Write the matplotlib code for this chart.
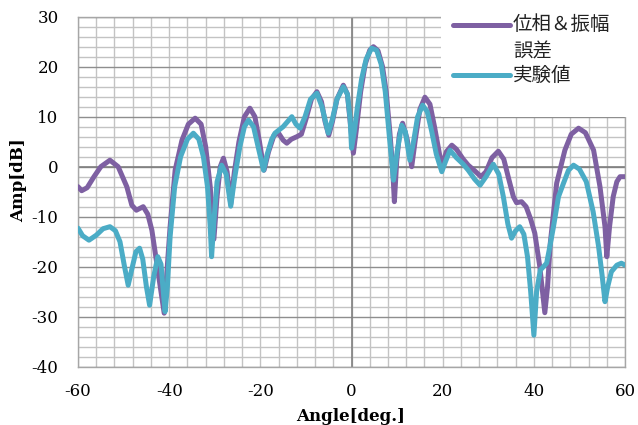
import numpy as np
import matplotlib
matplotlib.use("Agg")
from matplotlib import pyplot as plt
from matplotlib.ticker import MultipleLocator
from matplotlib.lines import Line2D
from matplotlib.patches import Rectangle

plt.rcParams['axes.unicode_minus'] = False

# 位相＆振幅誤差 (simulated, purple)
angle_sim = [-60, -59.2, -58, -56.5, -55, -53, -51.2, -49.3, -48.2, -47.2, -45.7, -44.7, -43.8,
             -42.4, -41.1, -40.5, -39.8, -38.7, -37.2, -35.8, -34.3, -33, -32, -31, -30.2, -29.5,
             -28.8, -28.1, -27.3, -26.5, -25.7, -24.7, -23.5, -22.3, -21.2, -20.2, -19.2, -18.2,
             -17, -16, -15, -14.2, -13.2, -12, -11, -10, -8.8, -7.6, -6.6, -5.8, -5, -4.2, -3.2,
             -1.8, -0.9, -0.3, 0.4, 1, 2, 3, 4, 4.8, 5.8, 6.8, 7.6, 8.4, 9, 9.4, 9.9, 10.5, 11.2,
             12.2, 13.2, 14, 15, 16.1, 17.2, 18.2, 19.2, 19.8, 20.8, 22, 23, 24.5, 25.6, 27, 28.4,
             29.5, 30.8, 32.2, 33.4, 34.5, 35.5, 36.2, 37.3, 38.3, 39.3, 40.2, 41.3, 42.4, 43,
             43.6, 45, 46.8, 48.2, 49.8, 51.3, 53.1, 54.5, 55.6, 56, 56.6, 57.4, 58.2, 58.9, 60]
amp_sim = [-4, -4.8, -4.2, -2, 0, 1.3, 0, -4, -7.7, -8.7, -8, -9.5, -12.7,
           -21.3, -29.3, -21, -12, -0.7, 5.3, 8.5, 9.7, 8.5, 4, -4, -14.5, -6,
           0, 1.7, -1, -7.5, -1, 5, 10, 11.7, 10, 5, -0.7, 3,
           6.3, 6.7, 5.3, 4.7, 5.5, 6, 6.5, 9.5, 13.5, 15, 13, 9, 6.3, 9, 13.5,
           16.3, 14.5, 9, 2.7, 7, 15, 20.5, 23.3, 24, 23.2, 20, 15, 7, 0, -7, 1, 6.5, 8.7,
           5.5, 0, 5.5, 11.5, 13.9, 12.5, 8, 3, 0, 3, 4.3, 3.5, 1.5, 0.3, -0.8, -2,
           -1, 1.8, 3.1, 1.5, -2.5, -6, -7.2, -7, -8, -10.5, -13.3, -20, -29.2, -24,
           -15.3, -3.3, 3.3, 6.5, 7.7, 6.8, 3.3, -4, -12, -18, -12, -6, -3, -2, -2]

# 実験値 (measured, cyan)
angle_meas = [-60, -59, -57.6, -56, -54.5, -53, -51.8, -50.8, -49.8, -49, -48.2, -47.3, -46.5,
              -45.8, -45, -44.3, -43.4, -42.5, -41.8, -41.2, -40.9, -40.4, -39.8, -38.8, -37.5,
              -36, -34.7, -33.5, -32.5, -31.6, -31, -30.7, -30.2, -29.5, -28.5, -27.5, -26.5,
              -25.6, -24.5, -23.5, -22.6, -21.5, -20.5, -19.3, -18.5, -17.5, -16.8, -15, -13.1,
              -12.2, -11.3, -10.2, -9, -7.6, -6.5, -5.1, -4.2, -3.2, -1.8, -0.9, -0.3, 0, 0.6,
              1.3, 2.2, 3.2, 4.4, 5.5, 6.5, 7.4, 8.3, 9.2, 10, 11, 11.8, 12.8, 13.6, 14.5, 15.6,
              16.6, 17.6, 18.6, 19.8, 20.6, 21.6, 23, 24.5, 25.6, 27, 28.2, 29.5, 31.1, 32.3,
              33.3, 34.3, 35.1, 36, 36.9, 37.8, 38.6, 39.3, 40, 40.6, 41.4, 42.8, 43.5, 44.3,
              45.4, 46.5, 47.6, 48.7, 50, 51.5, 53, 54.2, 55, 55.6, 56.2, 57, 58.2, 59.2, 60]
amp_meas = [-12.3, -13.8, -14.7, -13.7, -12.4, -12, -12.8, -15, -20, -23.7, -20.5, -17, -16.3,
            -18.5, -24, -27.7, -22, -18, -19.5, -26, -29, -24, -14, -4, 2,
            5.5, 6.7, 5.5, 2, -4, -12, -18, -11, -3, 0.3, -1.5, -7.9,
            -2, 4, 8, 9.3, 8, 4, -0.7, 2.5, 5.5, 6.7, 8, 10,
            8.5, 7.7, 10, 13.5, 14.7, 12, 6.7, 9.5, 13.5, 16, 14.5, 9.5, 3.7, 7,
            12, 17.5, 21.5, 23.7, 23.3, 20.5, 15, 6, -2.7, 3, 8.3, 7, 1.3, 5, 10, 12.3,
            11, 7, 2.5, -1, 1, 3.3, 1.8, 0.5, -0.7, -2.5, -3.7, -2, 0.5, -1.5,
            -6, -11.5, -14.3, -12.8, -12, -13.5, -18, -25, -33.7, -25, -20.7, -19.3, -16, -12,
            -6, -3.3, -0.7, 0.3, -0.5, -3, -9, -16, -22, -27, -24, -21, -19.7, -19.3, -19.7]

labels = ['位相＆振幅\n誤差', '実験値']
colors = ['#7E60A2', '#4BACC6']

fig = plt.figure(figsize=(6.38, 4.25), dpi=100)
ax = fig.add_axes([0.1223, 0.1372, 0.8574, 0.8235])

ax.plot(angle_sim, amp_sim, color=colors[0], lw=3.6, solid_joinstyle='round', solid_capstyle='round', zorder=3)
ax.plot(angle_meas, amp_meas, color=colors[1], lw=3.6, solid_joinstyle='round', solid_capstyle='round', zorder=4)

ax.set_xlim(-60, 60)
ax.set_ylim(-40, 30)
ax.xaxis.set_major_locator(MultipleLocator(20))
ax.xaxis.set_minor_locator(MultipleLocator(4))
ax.yaxis.set_major_locator(MultipleLocator(10))
ax.yaxis.set_minor_locator(MultipleLocator(2))

ax.grid(which='minor', color='#C3C3C3', lw=1.0, zorder=0)
ax.grid(axis='x', which='major', color='#C3C3C3', lw=1.0, zorder=0)
ax.grid(axis='y', which='major', color='#8E8E8E', lw=1.0, zorder=1)
ax.axvline(0, color='#808080', lw=1.2, zorder=1)
ax.axhline(0, color='#808080', lw=1.2, zorder=1)
ax.set_axisbelow(True)

for s in ax.spines.values():
    s.set_color('#A6A6A6')
    s.set_linewidth(1.0)

ax.tick_params(which='both', length=0)
ax.tick_params(axis='x', pad=12)
ax.tick_params(axis='y', pad=14)
for t in ax.get_xticklabels() + ax.get_yticklabels():
    t.set_fontfamily('DejaVu Serif')
    t.set_fontsize(12)

ax.set_xlabel('Angle[deg.]', family='DejaVu Serif', fontweight='bold', fontsize=12)
ax.set_ylabel('Amp[dB]', family='DejaVu Serif', fontweight='bold', fontsize=12)
ax.xaxis.set_label_coords(0.499, -0.118)
ax.yaxis.set_label_coords(-0.093, 0.533)

# legend area (white box covering the grid, top right)
W, H = 638.0, 425.0
fig.patches.append(Rectangle((441 / W, 1 - 116.7 / H), 1 - 441 / W, 116.7 / H,
                             transform=fig.transFigure, facecolor='white', edgecolor='none', zorder=2))
for i, (lab, c) in enumerate(zip(labels, colors)):
    yc = 1 - [25, 75][i] / H
    fig.lines.append(Line2D([453 / W, 510 / W], [yc, yc], transform=fig.transFigure,
                            color=c, lw=3.6, solid_capstyle='round', zorder=3))
for txt, ypx in [('位相＆振幅', 25), ('誤差', 52), ('実験値', 75)]:
    fig.text(513 / W, 1 - ypx / H, txt, family=['Noto Sans CJK JP', 'DejaVu Sans'],
             fontsize=14, va='center', ha='left', color='#222222', zorder=4)

fig.savefig('out.png', dpi=100)
